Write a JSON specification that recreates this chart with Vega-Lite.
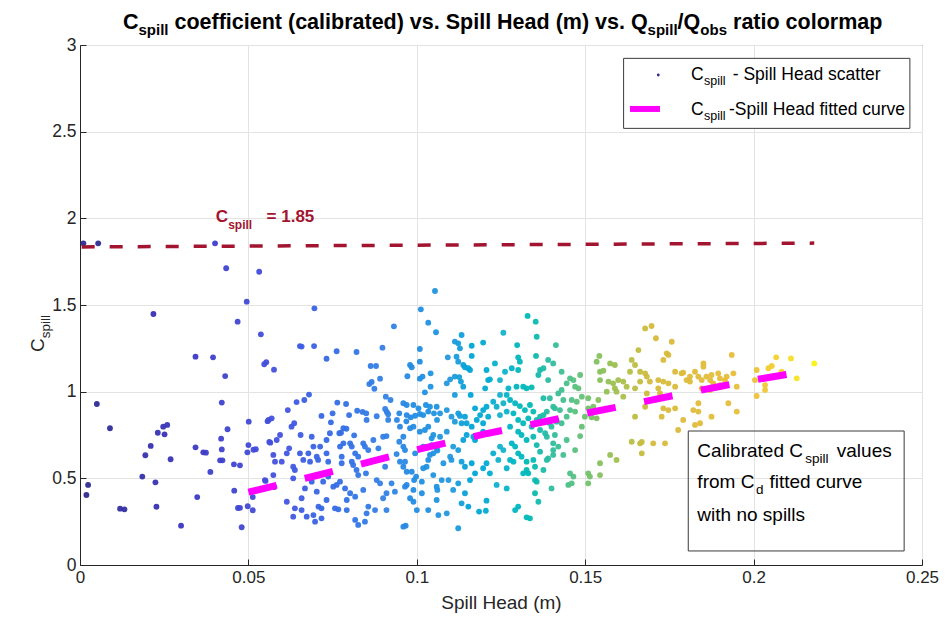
{
"$schema": "https://vega.github.io/schema/vega-lite/v6.json",
"width": 842, "height": 520,
"autosize": {"type": "none"},
"padding": {"left": 80, "top": 45, "right": 24, "bottom": 60},
"background": "white",
"config": {
  "font": "Liberation Sans",
  "view": {"stroke": "#3a3a3a", "strokeWidth": 1}
},
"encoding": {
  "x": {"field": "h", "type": "quantitative",
        "scale": {"domain": [0, 0.25], "nice": false, "zero": false},
        "axis": {"title": "Spill Head (m)", "values": [0, 0.05, 0.1, 0.15, 0.2, 0.25], "format": ".2~f",
                 "grid": true, "gridColor": "#e3e3e3", "domainColor": "#262626", "tickColor": "#262626",
                 "tickSize": -6, "labelFontSize": 17, "labelColor": "#262626", "labelPadding": 10, "labelFlush": false, "labelOverlap": false,
                 "titleFontSize": 19, "titleFontWeight": "normal", "titleColor": "#262626", "titlePadding": 8}},
  "y": {"field": "c", "type": "quantitative",
        "scale": {"domain": [0, 3], "nice": false, "zero": false},
        "axis": {"title": null, "values": [0, 0.5, 1, 1.5, 2, 2.5, 3], "format": ".1~f",
                 "grid": true, "gridColor": "#e3e3e3", "domainColor": "#262626", "tickColor": "#262626",
                 "tickSize": -6, "labelFontSize": 17.5, "labelColor": "#262626", "labelPadding": 10, "labelFlush": false, "labelOverlap": false}}
},
"layer": [
  {
    "data": {"values": [
{"h":0.001,"c":1.856},{"h":0.0054,"c":1.856},{"h":0.0401,"c":1.856},{"h":0.0434,"c":1.712},{"h":0.0532,"c":1.692},{"h":0.0495,"c":1.519},{"h":0.0468,"c":1.404},{"h":0.0537,"c":1.331},{"h":0.0218,"c":1.448},{"h":0.0343,"c":1.202},{"h":0.0395,"c":1.198},{"h":0.0547,"c":1.158},{"h":0.0553,"c":1.17},{"h":0.0431,"c":1.09},{"h":0.005,"c":0.929},{"h":0.0421,"c":0.937},{"h":0.0501,"c":0.827},{"h":0.0557,"c":0.83},{"h":0.0089,"c":0.789},{"h":0.0231,"c":0.763},{"h":0.0247,"c":0.798},{"h":0.0259,"c":0.808},{"h":0.0251,"c":0.754},{"h":0.0438,"c":0.783},{"h":0.0419,"c":0.729},{"h":0.021,"c":0.687},{"h":0.0343,"c":0.679},{"h":0.0366,"c":0.65},{"h":0.0374,"c":0.648},{"h":0.0421,"c":0.667},{"h":0.0562,"c":0.71},{"h":0.0497,"c":0.65},{"h":0.0515,"c":0.665},{"h":0.0522,"c":0.668},{"h":0.0194,"c":0.633},{"h":0.0269,"c":0.61},{"h":0.0416,"c":0.604},{"h":0.0423,"c":0.604},{"h":0.0457,"c":0.581},{"h":0.0475,"c":0.575},{"h":0.0387,"c":0.537},{"h":0.0185,"c":0.51},{"h":0.0024,"c":0.462},{"h":0.0224,"c":0.477},{"h":0.0019,"c":0.404},{"h":0.0458,"c":0.429},{"h":0.0551,"c":0.485},{"h":0.0348,"c":0.392},{"h":0.0513,"c":0.392},{"h":0.0119,"c":0.325},{"h":0.0132,"c":0.321},{"h":0.0227,"c":0.336},{"h":0.0469,"c":0.329},{"h":0.0475,"c":0.33},{"h":0.0498,"c":0.339},{"h":0.0513,"c":0.316},{"h":0.03,"c":0.227},{"h":0.048,"c":0.218},{"h":0.0696,"c":1.481},
{"h":0.0653,"c":1.263},{"h":0.0658,"c":1.26},{"h":0.0695,"c":1.263},{"h":0.0762,"c":1.233},{"h":0.0732,"c":1.19},{"h":0.0821,"c":1.229},{"h":0.0576,"c":1.127},{"h":0.0898,"c":1.254},{"h":0.0932,"c":1.377},{"h":0.1012,"c":1.475},{"h":0.1054,"c":1.581},{"h":0.1034,"c":1.398},{"h":0.1057,"c":1.343},{"h":0.1009,"c":1.246},{"h":0.1009,"c":1.173},{"h":0.098,"c":1.154},{"h":0.0985,"c":1.141},{"h":0.0863,"c":1.148},{"h":0.0879,"c":1.148},{"h":0.0891,"c":1.075},{"h":0.0859,"c":1.044},{"h":0.0866,"c":1.056},{"h":0.0874,"c":1.017},{"h":0.0972,"c":1.089},{"h":0.1009,"c":1.075},{"h":0.1017,"c":1.087},{"h":0.1041,"c":1.106},{"h":0.1041,"c":1.029},{"h":0.1024,"c":0.996},{"h":0.068,"c":0.983},{"h":0.0666,"c":0.952},{"h":0.0643,"c":0.94},{"h":0.0617,"c":0.894},{"h":0.056,"c":0.837},{"h":0.0569,"c":0.846},{"h":0.0628,"c":0.798},{"h":0.0636,"c":0.818},{"h":0.0655,"c":0.75},{"h":0.0594,"c":0.75},{"h":0.0584,"c":0.721},{"h":0.0565,"c":0.706},
{"h":0.0717,"c":0.86},{"h":0.0764,"c":0.937},{"h":0.079,"c":0.929},{"h":0.0799,"c":0.865},{"h":0.075,"c":0.875},{"h":0.0782,"c":0.789},{"h":0.0791,"c":0.786},{"h":0.0745,"c":0.823},{"h":0.0742,"c":0.76},{"h":0.077,"c":0.76},{"h":0.0775,"c":0.763},{"h":0.0814,"c":0.748},{"h":0.0839,"c":0.883},{"h":0.0823,"c":0.89},{"h":0.0851,"c":0.837},{"h":0.085,"c":0.875},{"h":0.0881,"c":0.858},{"h":0.0908,"c":0.971},{"h":0.0922,"c":0.952},{"h":0.0906,"c":0.9},{"h":0.0911,"c":0.883},{"h":0.0915,"c":0.87},{"h":0.0915,"c":0.837},{"h":0.0948,"c":0.875},{"h":0.0941,"c":0.837},{"h":0.095,"c":0.798},{"h":0.097,"c":0.923},{"h":0.0969,"c":0.829},{"h":0.0982,"c":0.852},{"h":0.099,"c":0.798},{"h":0.1009,"c":0.871},{"h":0.1027,"c":0.923},{"h":0.1039,"c":0.913},{"h":0.1051,"c":0.875},{"h":0.1024,"c":0.779},{"h":0.1034,"c":0.798},{"h":0.106,"c":0.837},{"h":0.1044,"c":0.731},{"h":0.1049,"c":0.75},{"h":0.1044,"c":0.692},{"h":0.1039,"c":0.635},{"h":0.1029,"c":0.567},{"h":0.1061,"c":0.66},{"h":0.096,"c":0.74},{"h":0.0948,"c":0.711},{"h":0.096,"c":0.683},{"h":0.0965,"c":0.663},{"h":0.094,"c":0.64},{"h":0.095,"c":0.596},{"h":0.096,"c":0.567},{"h":0.097,"c":0.538},{"h":0.0985,"c":0.538},{"h":0.0998,"c":0.51},{"h":0.1015,"c":0.481},{"h":0.0992,"c":0.49},{"h":0.097,"c":0.462},{"h":0.099,"c":0.433},{"h":0.1015,"c":0.414},{"h":0.1061,"c":0.433},{"h":0.1059,"c":0.375},{"h":0.099,"c":0.365},{"h":0.1,"c":0.317},{"h":0.0967,"c":0.227},
{"h":0.05,"c":0.692},{"h":0.0574,"c":0.635},{"h":0.0579,"c":0.596},{"h":0.0549,"c":0.49},{"h":0.0577,"c":0.45},{"h":0.0574,"c":0.519},{"h":0.0599,"c":0.596},{"h":0.0614,"c":0.644},{"h":0.0621,"c":0.673},{"h":0.0633,"c":0.567},{"h":0.0638,"c":0.548},{"h":0.0633,"c":0.5},{"h":0.0614,"c":0.365},{"h":0.0638,"c":0.327},{"h":0.0658,"c":0.317},{"h":0.0633,"c":0.279},{"h":0.0658,"c":0.385},{"h":0.0673,"c":0.279},{"h":0.0693,"c":0.288},{"h":0.0698,"c":0.25},{"h":0.0717,"c":0.269},{"h":0.0708,"c":0.337},{"h":0.0717,"c":0.327},{"h":0.0732,"c":0.375},{"h":0.0757,"c":0.327},{"h":0.0767,"c":0.321},{"h":0.0792,"c":0.375},{"h":0.0792,"c":0.317},{"h":0.0817,"c":0.26},{"h":0.0826,"c":0.231},{"h":0.0846,"c":0.25},{"h":0.0851,"c":0.298},{"h":0.0856,"c":0.337},{"h":0.0876,"c":0.317},{"h":0.0817,"c":0.394},{"h":0.0841,"c":0.433},{"h":0.09,"c":0.385},{"h":0.091,"c":0.317},{"h":0.0772,"c":0.481},{"h":0.0762,"c":0.462},{"h":0.0752,"c":0.452},{"h":0.0787,"c":0.442},{"h":0.0802,"c":0.414},{"h":0.0688,"c":0.481},{"h":0.0668,"c":0.442},{"h":0.0703,"c":0.423},{"h":0.0722,"c":0.481},{"h":0.0737,"c":0.51},{"h":0.0821,"c":0.548},{"h":0.0826,"c":0.519},{"h":0.0849,"c":0.529},{"h":0.0807,"c":0.596},{"h":0.0811,"c":0.577},{"h":0.0777,"c":0.625},{"h":0.0777,"c":0.587},{"h":0.0732,"c":0.644},{"h":0.0737,"c":0.596},{"h":0.0703,"c":0.625},{"h":0.0707,"c":0.606},{"h":0.0683,"c":0.596},{"h":0.0678,"c":0.644},{"h":0.0713,"c":0.683},{"h":0.0732,"c":0.721},{"h":0.0693,"c":0.683},{"h":0.0663,"c":0.606},{"h":0.0653,"c":0.644},{"h":0.0688,"c":0.74},{"h":0.0772,"c":0.683},{"h":0.0782,"c":0.702},{"h":0.0802,"c":0.702},{"h":0.0807,"c":0.683},{"h":0.0817,"c":0.644},{"h":0.0826,"c":0.625},{"h":0.0841,"c":0.702},{"h":0.0846,"c":0.683},{"h":0.0856,"c":0.663},{"h":0.0871,"c":0.721},{"h":0.09,"c":0.74},{"h":0.091,"c":0.744},{"h":0.0886,"c":0.673},{"h":0.0906,"c":0.567},{"h":0.0881,"c":0.49},{"h":0.0891,"c":0.471},{"h":0.091,"c":0.414},{"h":0.0925,"c":0.471},{"h":0.0935,"c":0.423},
{"h":0.1113,"c":1.289},{"h":0.1123,"c":1.279},{"h":0.1133,"c":1.327},{"h":0.1128,"c":1.25},{"h":0.1163,"c":1.265},{"h":0.1197,"c":1.283},{"h":0.1092,"c":1.198},{"h":0.1118,"c":1.202},{"h":0.1123,"c":1.173},{"h":0.1099,"c":1.071},{"h":0.1089,"c":1.048},{"h":0.1113,"c":1.087},{"h":0.1126,"c":1.084},{"h":0.1138,"c":1.154},{"h":0.1143,"c":1.141},{"h":0.1153,"c":1.135},{"h":0.1158,"c":1.125},{"h":0.1163,"c":1.206},{"h":0.1131,"c":1.058},{"h":0.1138,"c":1.029},{"h":0.116,"c":0.981},{"h":0.1113,"c":0.981},{"h":0.1207,"c":1.125},{"h":0.1212,"c":1.067},{"h":0.1217,"c":1.071},{"h":0.1203,"c":1.019},{"h":0.1232,"c":1.163},{"h":0.1257,"c":1.34},{"h":0.1298,"c":1.269},{"h":0.1329,"c":1.437},{"h":0.1353,"c":1.404},{"h":0.1356,"c":1.317},{"h":0.1354,"c":1.206},{"h":0.1301,"c":1.198},{"h":0.1306,"c":1.173},{"h":0.1282,"c":1.135},{"h":0.1301,"c":1.125},{"h":0.1262,"c":1.115},{"h":0.1366,"c":1.125},{"h":0.1376,"c":1.135},{"h":0.139,"c":1.183},{"h":0.1405,"c":1.163},{"h":0.1413,"c":1.269},{"h":0.1361,"c":1.096},{"h":0.139,"c":1.067},{"h":0.1247,"c":1.067},{"h":0.1326,"c":1.019},{"h":0.1341,"c":1.025},{"h":0.1316,"c":1.029},{"h":0.1296,"c":1.029},{"h":0.1272,"c":1.019},{"h":0.1247,"c":0.981},{"h":0.1267,"c":0.981},{"h":0.142,"c":0.99},{"h":0.1395,"c":0.962},
{"h":0.1227,"c":0.942},{"h":0.1237,"c":0.913},{"h":0.1257,"c":0.933},{"h":0.1277,"c":0.952},{"h":0.1292,"c":0.933},{"h":0.1306,"c":0.917},{"h":0.1321,"c":0.894},{"h":0.1336,"c":0.923},{"h":0.1346,"c":0.885},{"h":0.1267,"c":0.885},{"h":0.1287,"c":0.875},{"h":0.1247,"c":0.865},{"h":0.1212,"c":0.856},{"h":0.1301,"c":0.837},{"h":0.1316,"c":0.818},{"h":0.1331,"c":0.846},{"h":0.1341,"c":0.798},{"h":0.1356,"c":0.837},{"h":0.1366,"c":0.856},{"h":0.1277,"c":0.798},{"h":0.1301,"c":0.769},{"h":0.1311,"c":0.75},{"h":0.1326,"c":0.721},{"h":0.1346,"c":0.74},{"h":0.1356,"c":0.692},{"h":0.1282,"c":0.702},{"h":0.1292,"c":0.683},{"h":0.1301,"c":0.644},{"h":0.1311,"c":0.625},{"h":0.1277,"c":0.606},{"h":0.1287,"c":0.596},{"h":0.1326,"c":0.596},{"h":0.1247,"c":0.683},{"h":0.1257,"c":0.663},{"h":0.1227,"c":0.644},{"h":0.1207,"c":0.587},{"h":0.1242,"c":0.606},{"h":0.1267,"c":0.558},{"h":0.1217,"c":0.529},{"h":0.1237,"c":0.462},{"h":0.1267,"c":0.442},{"h":0.1301,"c":0.337},{"h":0.1292,"c":0.317},{"h":0.1326,"c":0.275},{"h":0.1336,"c":0.269},{"h":0.1351,"c":0.414},{"h":0.1361,"c":0.365},{"h":0.1356,"c":0.481},{"h":0.1331,"c":0.529},{"h":0.14,"c":0.442},{"h":0.1386,"c":0.606},{"h":0.1405,"c":0.663},{"h":0.141,"c":0.75},{"h":0.1386,"c":0.74},{"h":0.14,"c":0.798},{"h":0.1393,"c":0.82},{"h":0.1415,"c":0.837},{"h":0.1386,"c":0.885},{"h":0.141,"c":0.904},
{"h":0.096,"c":0.933},{"h":0.099,"c":0.923},{"h":0.1005,"c":0.904},{"h":0.097,"c":0.865},{"h":0.0995,"c":0.861},{"h":0.1019,"c":0.865},{"h":0.1034,"c":0.885},{"h":0.1059,"c":0.913},{"h":0.1069,"c":0.875},{"h":0.1089,"c":0.894},{"h":0.1103,"c":0.856},{"h":0.1123,"c":0.875},{"h":0.1128,"c":0.86},{"h":0.1143,"c":0.856},{"h":0.1113,"c":0.827},{"h":0.1133,"c":0.818},{"h":0.1148,"c":0.818},{"h":0.1163,"c":0.798},{"h":0.1178,"c":0.837},{"h":0.1188,"c":0.865},{"h":0.1197,"c":0.894},{"h":0.1173,"c":0.904},{"h":0.1207,"c":0.913},{"h":0.1197,"c":0.818},{"h":0.1148,"c":0.75},{"h":0.1168,"c":0.74},{"h":0.1173,"c":0.721},{"h":0.1197,"c":0.769},{"h":0.1217,"c":0.76},{"h":0.1138,"c":0.721},{"h":0.1123,"c":0.663},{"h":0.1108,"c":0.683},{"h":0.1099,"c":0.625},{"h":0.1103,"c":0.606},{"h":0.1079,"c":0.587},{"h":0.1133,"c":0.596},{"h":0.1143,"c":0.567},{"h":0.1163,"c":0.587},{"h":0.1173,"c":0.529},{"h":0.1197,"c":0.558},{"h":0.1158,"c":0.49},{"h":0.1123,"c":0.471},{"h":0.1094,"c":0.49},{"h":0.1108,"c":0.433},{"h":0.1143,"c":0.414},{"h":0.1133,"c":0.356},{"h":0.1153,"c":0.337},{"h":0.1185,"c":0.308},{"h":0.1205,"c":0.313},{"h":0.1207,"c":0.371},{"h":0.1123,"c":0.212},{"h":0.1089,"c":0.298},{"h":0.1064,"c":0.288},{"h":0.1034,"c":0.317},{"h":0.098,"c":0.385},{"h":0.1059,"c":0.452},{"h":0.1074,"c":0.49},{"h":0.1049,"c":0.519},{"h":0.1019,"c":0.558},{"h":0.0965,"c":0.452},{"h":0.1049,"c":0.644},{"h":0.1059,"c":0.673},{"h":0.1034,"c":0.606},{"h":0.0995,"c":0.644},{"h":0.0965,"c":0.596},{"h":0.1019,"c":0.683},{"h":0.1069,"c":0.74},{"h":0.1089,"c":0.769},{"h":0.1009,"c":0.769},{"h":0.098,"c":0.789},{"h":0.096,"c":0.221},
{"h":0.143,"c":1.115},{"h":0.1485,"c":1.096},{"h":0.1542,"c":1.206},{"h":0.1534,"c":1.173},{"h":0.1544,"c":1.115},{"h":0.1554,"c":1.121},{"h":0.1574,"c":1.163},{"h":0.1588,"c":1.154},{"h":0.1544,"c":1.067},{"h":0.1569,"c":1.058},{"h":0.1583,"c":1.048},{"h":0.1598,"c":1.067},{"h":0.1613,"c":1.058},{"h":0.1623,"c":1.029},{"h":0.1588,"c":1.019},{"h":0.1593,"c":1.0},{"h":0.1564,"c":1.0},{"h":0.1613,"c":0.971},{"h":0.1638,"c":1.183},{"h":0.1633,"c":1.115},{"h":0.1648,"c":1.154},{"h":0.1658,"c":1.24},{"h":0.1678,"c":1.365},{"h":0.1697,"c":1.379},{"h":0.171,"c":1.308},{"h":0.1757,"c":1.288},{"h":0.1742,"c":1.221},{"h":0.1732,"c":1.183},{"h":0.1663,"c":1.115},{"h":0.1678,"c":1.106},{"h":0.1683,"c":1.087},{"h":0.1692,"c":1.058},{"h":0.1717,"c":1.067},{"h":0.1732,"c":1.058},{"h":0.1663,"c":1.058},{"h":0.1648,"c":1.019},{"h":0.1717,"c":1.019},{"h":0.1722,"c":0.99},{"h":0.1707,"c":0.952},{"h":0.1767,"c":1.115},{"h":0.1786,"c":1.106},{"h":0.1811,"c":1.087},{"h":0.1826,"c":1.115},{"h":0.1747,"c":1.048},{"h":0.1767,"c":1.029},{"h":0.1683,"c":0.99},{"h":0.1678,"c":0.913},{"h":0.1648,"c":0.856},{"h":0.1732,"c":0.904},{"h":0.1747,"c":0.894},{"h":0.1767,"c":0.904},{"h":0.1791,"c":0.837},{"h":0.1826,"c":0.808},{"h":0.1776,"c":0.779},{"h":0.1702,"c":0.702},{"h":0.1737,"c":0.702},{"h":0.1638,"c":0.711},{"h":0.1663,"c":0.702},{"h":0.1668,"c":0.644},{"h":0.1574,"c":0.635},{"h":0.1593,"c":0.606},{"h":0.1544,"c":0.587},{"h":0.1544,"c":0.519},{"h":0.1509,"c":0.529},{"h":0.1514,"c":0.51},{"h":0.147,"c":0.663},{"h":0.1485,"c":0.744},{"h":0.149,"c":0.798},{"h":0.1499,"c":0.856},{"h":0.1519,"c":0.852},{"h":0.1534,"c":0.846},{"h":0.1509,"c":0.904},{"h":0.1524,"c":0.913},{"h":0.1539,"c":0.952},{"h":0.1509,"c":0.962},{"h":0.149,"c":0.971},{"h":0.147,"c":1.029},{"h":0.148,"c":1.019},{"h":0.1455,"c":1.077},{"h":0.1465,"c":1.067},{"h":0.1445,"c":1.048},{"h":0.143,"c":1.01},{"h":0.146,"c":0.952},{"h":0.1475,"c":0.942},{"h":0.1435,"c":0.952},{"h":0.1425,"c":0.894},{"h":0.1455,"c":0.894},{"h":0.147,"c":0.885},{"h":0.1405,"c":0.913},{"h":0.1376,"c":0.962},{"h":0.1415,"c":0.827},{"h":0.143,"c":0.818},{"h":0.1445,"c":0.856},{"h":0.1376,"c":0.865},{"h":0.1366,"c":0.779},{"h":0.1381,"c":0.76},{"h":0.1405,"c":0.702},{"h":0.142,"c":0.683},{"h":0.1445,"c":0.721},{"h":0.1435,"c":0.635},{"h":0.1405,"c":0.635},{"h":0.139,"c":0.615},{"h":0.1366,"c":0.654},{"h":0.1346,"c":0.606},{"h":0.1351,"c":0.567},{"h":0.1376,"c":0.548},{"h":0.1326,"c":0.548},{"h":0.1316,"c":0.529},{"h":0.1351,"c":0.49},{"h":0.1455,"c":0.529},{"h":0.1465,"c":0.51},{"h":0.145,"c":0.462},{"h":0.146,"c":0.471},{"h":0.1509,"c":0.471},{"h":0.1668,"c":0.71},
{"h":0.1747,"c":1.212},{"h":0.1791,"c":1.11},{"h":0.1801,"c":1.067},{"h":0.1811,"c":1.058},{"h":0.1851,"c":1.163},{"h":0.1851,"c":1.144},{"h":0.1836,"c":1.087},{"h":0.1846,"c":1.067},{"h":0.186,"c":1.087},{"h":0.1871,"c":1.067},{"h":0.1875,"c":1.096},{"h":0.1895,"c":1.106},{"h":0.19,"c":1.077},{"h":0.1915,"c":1.067},{"h":0.192,"c":1.087},{"h":0.194,"c":1.106},{"h":0.1935,"c":1.212},{"h":0.19,"c":1.038},{"h":0.188,"c":1.048},{"h":0.1871,"c":1.01},{"h":0.1846,"c":1.019},{"h":0.1836,"c":0.933},{"h":0.1836,"c":0.885},{"h":0.1821,"c":0.894},{"h":0.1875,"c":0.856},{"h":0.1841,"c":0.818},{"h":0.1925,"c":0.933},{"h":0.195,"c":0.885},{"h":0.195,"c":1.029},{"h":0.2009,"c":1.125},{"h":0.2004,"c":1.067},{"h":0.2009,"c":0.975},{"h":0.2034,"c":1.038},{"h":0.2034,"c":1.01},{"h":0.2044,"c":1.135},{"h":0.2054,"c":1.148},{"h":0.2067,"c":1.198},{"h":0.2111,"c":1.192},{"h":0.2083,"c":1.115},{"h":0.2128,"c":1.077},{"h":0.218,"c":1.163},{"h":0.1727,"c":0.856}
    ]},
    "mark": {"type": "circle", "size": 34, "opacity": 0.95},
    "encoding": {
      "color": {"field": "h", "type": "quantitative", "legend": null,
        "scale": {"domain": [0, 0.03, 0.06, 0.09, 0.11, 0.125, 0.14, 0.155, 0.17, 0.2, 0.22],
                  "range": ["#2e2a8c", "#3b35c0", "#4453e0", "#3580e6", "#2599dc", "#17b2cc", "#2fbd9f", "#8cc15a", "#d6ba3c", "#ecbf38", "#f9f90e"]}}
    }
  },
  {
    "data": {"values": [{"h": 0.0005, "c": 1.835}, {"h": 0.218, "c": 1.857}]},
    "mark": {"type": "line", "color": "#A2142F", "strokeWidth": 3.5, "strokeDash": [13, 15]},
    "encoding": {}
  },
  {
    "data": {"values": [
      {"h":0.05,"c":0.42},{"h":0.06,"c":0.467},{"h":0.07,"c":0.515},{"h":0.08,"c":0.565},{"h":0.09,"c":0.615},{"h":0.1,"c":0.665},{"h":0.11,"c":0.71},{"h":0.12,"c":0.755},{"h":0.13,"c":0.795},{"h":0.14,"c":0.835},{"h":0.15,"c":0.875},{"h":0.16,"c":0.913},{"h":0.17,"c":0.953},{"h":0.18,"c":0.993},{"h":0.19,"c":1.03},{"h":0.2,"c":1.067},{"h":0.21,"c":1.1},{"h":0.218,"c":1.13}
    ]},
    "mark": {"type": "line", "color": "#ff00ff", "strokeWidth": 7, "strokeDash": [29, 29], "strokeCap": "butt"},
    "encoding": {}
  },
  {
    "data": {"values": [{"h": 0.1614, "h2": 0.2464, "c": 2.923, "c2": 2.519}]},
    "mark": {"type": "rect", "fill": "white", "stroke": "#3a3a3a", "strokeWidth": 1},
    "encoding": {"x2": {"field": "h2"}, "y2": {"field": "c2"}}
  },
  {
    "data": {"values": [{"h": 0.1717, "c": 2.827}]},
    "mark": {"type": "circle", "size": 8, "color": "#352a87", "opacity": 1},
    "encoding": {}
  },
  {
    "data": {"values": [{"h": 0.1633, "c": 2.631}, {"h": 0.1722, "c": 2.631}]},
    "mark": {"type": "line", "color": "#ff00ff", "strokeWidth": 6, "strokeCap": "butt"},
    "encoding": {}
  },
  {
    "data": {"values": [{"h": 0.1806, "h2": 0.2447, "c": 0.773, "c2": 0.081}]},
    "mark": {"type": "rect", "fill": null, "fillOpacity": 0, "stroke": "#3a3a3a", "strokeWidth": 1},
    "encoding": {"x2": {"field": "h2"}, "y2": {"field": "c2"}}
  },
  {
    "data": {"values": [
      {"h": 0.012767, "c": 3.092, "t": "C"},
      {"h": 0.02806, "c": 3.092, "t": "coefficient (calibrated) vs. Spill Head (m) vs. Q"},
      {"h": 0.177435, "c": 3.092, "t": "/Q"},
      {"h": 0.19389, "c": 3.092, "t": "ratio colormap"}
    ]},
    "mark": {"type": "text", "align": "left", "baseline": "alphabetic", "fontSize": 21.5, "fontWeight": "bold", "color": "#000000"},
    "encoding": {"text": {"field": "t"}}
  },
  {
    "data": {"values": [
      {"h": 0.017369, "c": 3.092, "t": "spill"},
      {"h": 0.168527, "c": 3.092, "t": "spill"},
      {"h": 0.184175, "c": 3.092, "t": "obs"}
    ]},
    "mark": {"type": "text", "align": "left", "baseline": "alphabetic", "fontSize": 15, "fontWeight": "bold", "dy": 6, "color": "#000000"},
    "encoding": {"text": {"field": "t"}}
  },
  {
    "data": {"values": [
      {"h": 0.1814, "c": 2.798, "t": "C"},
      {"h": 0.1938, "c": 2.798, "t": "- Spill Head scatter"},
      {"h": 0.1814, "c": 2.596, "t": "C"},
      {"h": 0.1927, "c": 2.596, "t": "-Spill Head fitted curve"}
    ]},
    "mark": {"type": "text", "align": "left", "baseline": "alphabetic", "fontSize": 17.5, "color": "#000000"},
    "encoding": {"text": {"field": "t"}}
  },
  {
    "data": {"values": [
      {"h": 0.1853, "c": 2.798, "t": "spill"},
      {"h": 0.1853, "c": 2.596, "t": "spill"}
    ]},
    "mark": {"type": "text", "align": "left", "baseline": "alphabetic", "fontSize": 12.5, "dy": 5, "color": "#000000"},
    "encoding": {"text": {"field": "t"}}
  },
  {
    "data": {"values": [
      {"h": 0.1833, "c": 0.625, "t": "Calibrated C"},
      {"h": 0.2247, "c": 0.625, "t": "values"},
      {"h": 0.1833, "c": 0.4423, "t": "from C"},
      {"h": 0.2047, "c": 0.4423, "t": "fitted curve"},
      {"h": 0.1833, "c": 0.254, "t": "with no spills"}
    ]},
    "mark": {"type": "text", "align": "left", "baseline": "alphabetic", "fontSize": 19, "color": "#000000"},
    "encoding": {"text": {"field": "t"}}
  },
  {
    "data": {"values": [
      {"h": 0.2153, "c": 0.625, "t": "spill"},
      {"h": 0.2007, "c": 0.4423, "t": "d"}
    ]},
    "mark": {"type": "text", "align": "left", "baseline": "alphabetic", "fontSize": 13.5, "dy": 6, "color": "#000000"},
    "encoding": {"text": {"field": "t"}}
  },
  {
    "data": {"values": [
      {"h": 0.0403, "c": 1.9807, "t": "C"},
      {"h": 0.0554, "c": 1.9807, "t": "= 1.85"}
    ]},
    "mark": {"type": "text", "align": "left", "baseline": "alphabetic", "fontSize": 17, "fontWeight": "bold", "color": "#A2142F"},
    "encoding": {"text": {"field": "t"}}
  },
  {
    "data": {"values": [{"h": 0.044, "c": 1.9807, "t": "spill"}]},
    "mark": {"type": "text", "align": "left", "baseline": "alphabetic", "fontSize": 12, "fontWeight": "bold", "dy": 7, "color": "#A2142F"},
    "encoding": {"text": {"field": "t"}}
  },
  {
    "data": {"values": [{"h": -0.0107, "c": 1.229, "t": "C"}]},
    "mark": {"type": "text", "align": "left", "baseline": "alphabetic", "angle": 270, "fontSize": 19, "color": "#262626"},
    "encoding": {"text": {"field": "t"}}
  },
  {
    "data": {"values": [{"h": -0.0107, "c": 1.308, "t": "spill"}]},
    "mark": {"type": "text", "align": "left", "baseline": "alphabetic", "angle": 270, "fontSize": 13.5, "dy": 6, "color": "#262626"},
    "encoding": {"text": {"field": "t"}}
  }
]
}
